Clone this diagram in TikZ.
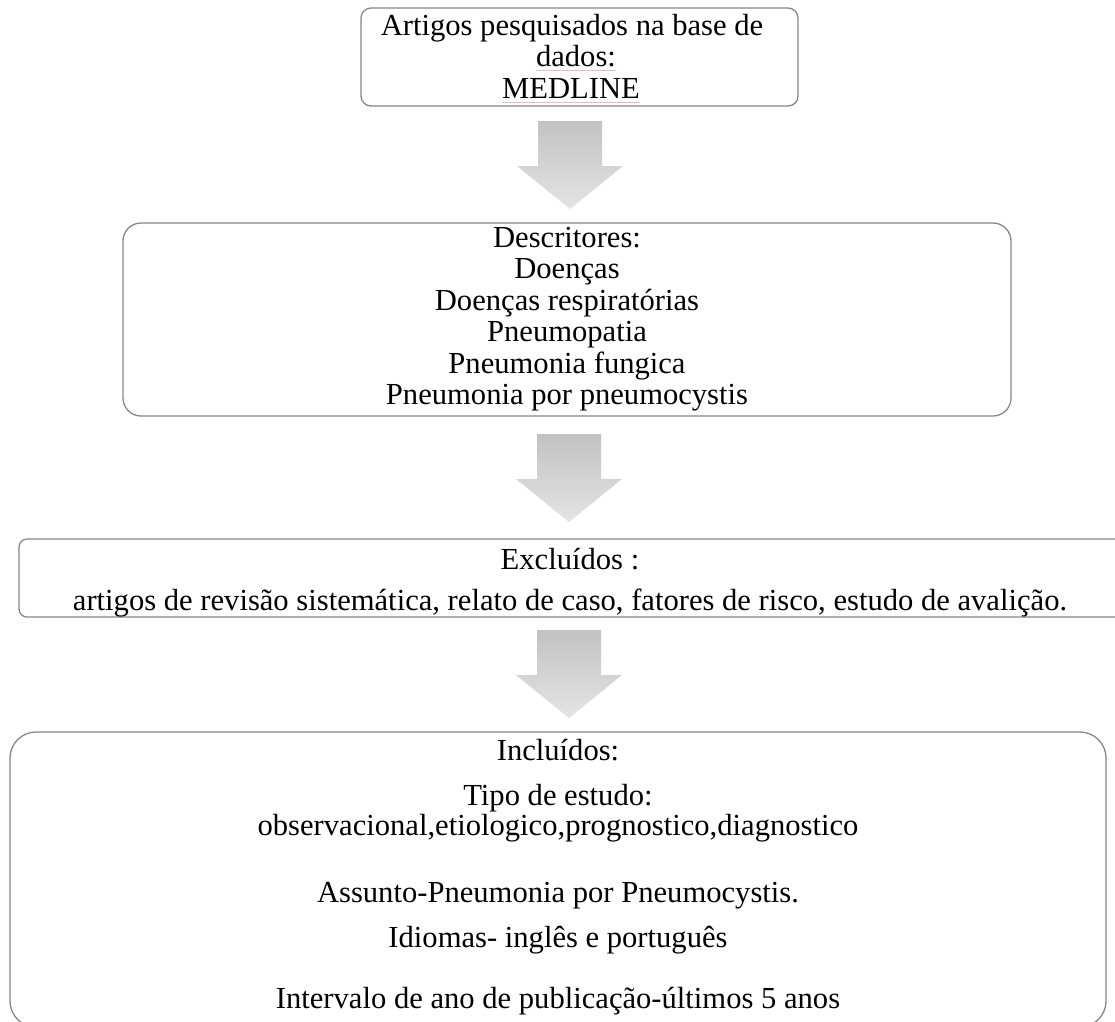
\documentclass[tikz,border=0pt]{standalone}
\usepackage{fontspec}
\setmainfont{Liberation Serif}
\definecolor{boxgray}{RGB}{135,135,135}
\definecolor{arrtop}{RGB}{194,194,194}
\definecolor{arrbot}{RGB}{228,228,228}
\definecolor{spellpink}{RGB}{240,185,185}
\begin{document}
\begin{tikzpicture}[x=1pt,y=-1pt,
  box/.style={draw=boxgray, line width=1.3pt, fill=white, inner sep=0pt, outer sep=0pt},
  txt/.style={anchor=base, inner sep=0pt, font=\fontsize{30.6}{31.5}\selectfont, text=black},
  spell/.style={draw=spellpink, line width=0.8pt},
  blockarrow/.pic={\shade[top color=arrtop, bottom color=arrbot]
     (-32,0) -- (32,0) -- (32,45) -- (53,45) -- (0,88) -- (-53,45) -- (-32,45) -- cycle;}]
\useasboundingbox (0,0) rectangle (1115,1021);
\clip (0,0) rectangle (1115,1021);
\fill[white] (0,0) rectangle (1115,1021);

% boxes
\node[box, rounded corners=10pt, minimum width=437pt, minimum height=98pt] (b1) at (579.5,57) {};
\node[box, rounded corners=18pt, minimum width=888pt, minimum height=193pt] (b2) at (567,319.5) {};
\node[box, rounded corners=8pt, minimum width=1108pt, minimum height=78pt] (b3) at (573,578) {};
\node[box, rounded corners=26pt, minimum width=1096pt, minimum height=295pt] (b4) at (558,879.5) {};

% block arrows
\coordinate (a1) at (570,121);
\coordinate (a2) at (569,434);
\coordinate (a3) at (569,630);
\pic at (a1) {blockarrow};
\pic at (a2) {blockarrow};
\pic at (a3) {blockarrow};

% box 1 text
\node[txt] (t1a) at (572,35) {Artigos pesquisados na base de};
\node[txt] (t1b) at (576,66) {dados:};
\node[txt] (t1c) at (571,98) {MEDLINE};
\draw[spell] ([yshift=-4pt]t1b.base west) -- ([yshift=-4pt]t1b.base east);
\draw[spell] ([yshift=-4pt]t1c.base west) -- ([yshift=-4pt]t1c.base east);

% box 2 text
\node[txt] (t2a) at (567,247) {Descritores:};
\node[txt] (t2b) at (567,278.5) {Doenças};
\node[txt] (t2c) at (567,310) {Doenças respiratórias};
\node[txt] (t2d) at (567,341.5) {Pneumopatia};
\node[txt] (t2e) at (567,373) {Pneumonia fungica};
\node[txt] (t2f) at (567,404.5) {Pneumonia por pneumocystis};

% box 3 text
\node[txt] (t3a) at (570,569) {Excluídos :};
\node[txt] (t3b) at (570,610) {artigos de revisão sistemática, relato de caso, fatores de risco, estudo de avalição.};

% box 4 text
\node[txt] (t4a) at (558,760) {Incluídos:};
\node[txt] (t4b) at (558,805) {Tipo de estudo:};
\node[txt] (t4c) at (558,835) {observacional,etiologico,prognostico,diagnostico};
\node[txt] (t4d) at (558,902) {Assunto-Pneumonia por Pneumocystis.};
\node[txt] (t4e) at (558,947) {Idiomas- inglês e português};
\node[txt] (t4f) at (558,1008) {Intervalo de ano de publicação-últimos 5 anos};
\end{tikzpicture}
\end{document}
